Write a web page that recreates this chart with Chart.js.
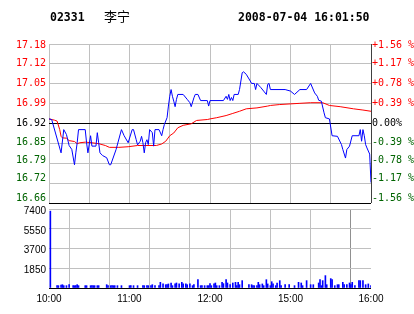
<!DOCTYPE html>
<html><head><meta charset="utf-8">
<script src="https://cdn.jsdelivr.net/npm/chart.js@4/dist/chart.umd.min.js"></script>
<style>
html,body{margin:0;padding:0;background:#fff;}
#wrap{position:relative;width:414px;height:314px;overflow:hidden;background:#fff;}
canvas{position:absolute;left:0;top:0;}
.t{position:absolute;top:10px;font:bold 11.5px "DejaVu Sans Mono",monospace;color:#000;line-height:14px;white-space:nowrap;}
</style></head><body>
<div id="wrap">
<canvas id="pc" width="414" height="314"></canvas>
<canvas id="vc" width="414" height="314"></canvas>
<div class="t" style="left:50px">02331</div>
<div class="t" style="left:104px;top:8px;font-weight:normal;font-size:13px;font-family:'Noto Sans CJK SC',sans-serif;line-height:16px">李宁</div>
<div class="t" style="left:238px">2008-07-04 16:01:50</div>
</div>
<script>
// ---- data ----
const priceMinutes = [0,2,9,11,13,15,17,19,20,21,22,27,28,29,31,32,35,36,37,38,40,43,45,46,50,54,56,59,62,63,65,66,68,69,70,71,72,73,74,75,77,78,79,82,84,85,86,88,89,90,91,92,93,94,95,96,100,103,105,106,108,109,111,113,118,119,120,130,132,133,134,135,136,137,138,141,142,144,145,147,150,151,153,154,155,158,160,162,163,164,165,176,180,183,187,192,195,198,200,201,203,205,206,209,211,215,218,219,221,222,224,226,231,232,233,234,235,236,237,239,240];
const prices = [16.935,16.933,16.824,16.90,16.884,16.848,16.835,16.785,16.824,16.857,16.90,16.90,16.857,16.824,16.88,16.846,16.846,16.89,16.857,16.824,16.815,16.808,16.785,16.785,16.835,16.90,16.88,16.857,16.90,16.90,16.867,16.85,16.862,16.878,16.857,16.824,16.857,16.867,16.851,16.90,16.89,16.846,16.90,16.90,16.88,16.90,16.917,16.939,16.977,17.009,17.031,17.009,16.993,16.975,16.999,17.015,17.015,16.999,16.988,16.975,17.004,17.015,17.015,16.995,16.995,16.977,16.995,16.995,17.009,16.999,17.015,16.995,17.005,16.995,17.015,17.015,17.031,17.086,17.089,17.081,17.059,17.051,17.051,17.031,17.051,17.037,17.026,17.015,17.048,17.051,17.031,17.031,17.026,17.015,17.031,17.031,17.051,17.02,17.009,16.996,16.993,16.955,16.939,16.935,16.88,16.878,16.851,16.835,16.807,16.835,16.846,16.88,16.88,16.90,16.862,16.90,16.88,16.851,16.84,16.82,16.727];
const avgMinutes = [0,4,6,8,9,10,13,15,19,21,23,27,32,37,42,45,52,59,66,80,84,87,90,93,96,100,106,110,118,120,125,132,137,142,147,155,163,165,172,187,195,204,209,217,227,234,240];
const avgPrices = [16.935,16.931,16.928,16.90,16.878,16.873,16.872,16.864,16.861,16.854,16.857,16.859,16.857,16.854,16.848,16.842,16.842,16.844,16.848,16.848,16.853,16.862,16.88,16.889,16.906,16.914,16.919,16.93,16.933,16.935,16.939,16.946,16.953,16.96,16.968,16.971,16.977,16.979,16.982,16.986,16.988,16.988,16.979,16.975,16.968,16.964,16.96];
const volMinutes = [1,6,7,9,10,11,13,15,18,19,20,21,22,27,28,31,32,33,34,36,37,43,44,46,47,48,49,51,54,60,61,63,66,70,71,73,74,76,77,79,82,83,85,87,88,89,91,92,94,95,97,99,100,102,103,105,107,108,111,113,114,116,118,119,120,121,123,124,125,127,129,130,132,133,135,137,139,140,141,142,144,149,151,152,153,155,156,157,159,160,162,163,165,166,167,169,170,172,173,176,179,183,186,188,189,192,195,197,201,202,203,204,206,207,210,211,213,215,216,219,220,222,224,225,226,228,231,232,234,236,238,240];
const volumes = [7200,220,220,280,310,220,220,310,220,220,220,310,220,220,220,220,220,220,220,220,220,310,220,220,220,220,220,220,220,220,220,220,220,220,220,220,220,220,310,220,220,530,380,310,310,380,470,220,380,470,380,530,380,380,310,380,220,310,780,220,220,220,220,220,410,220,380,470,220,220,530,410,780,470,310,470,530,220,530,310,690,310,310,220,220,220,530,310,380,220,780,380,220,590,380,220,470,690,220,310,310,220,530,470,220,690,310,310,470,780,220,690,1160,310,880,780,220,310,310,530,310,310,470,310,530,220,690,690,690,310,380,220];
const priceTicks = [16.66,16.725,16.79,16.855,16.92,16.985,17.05,17.115,17.18];
const priceTickLabels = ['16.66','16.72','16.79','16.85','16.92','16.99','17.05','17.12','17.18'];
const pctTickLabels = ['-1.56 %','-1.17 %','-0.78 %','-0.39 %','0.00%','+0.39 %','+0.78 %','+1.17 %','+1.56 %'];
const gridMinutes = [0,30,60,90,120,150,180,210,240];
const timeLabels = ['10:00','','11:00','','12:00','','15:00','','16:00'];
const volTicks = [0,1850,3700,5550,7400];
const volTickLabels = ['','1850','3700','5550','7400'];

// ---- styles ----
const GRAY = '#c0c0c0', RED = '#ff0000', GREEN = '#006400';
const sansFont = {family:'"Liberation Sans", Arial, sans-serif', size:10};
const labelShift = [-5,-5,-3,-1,0,0,0,0,1]; // vertical nudges of side labels (bottom to top)
const pts = (xs, ys) => xs.map((m,i)=>({x:m, y:ys[i]}));
const labelColor = i => i < 4 ? GREEN : (i === 4 ? '#000' : RED);

const sideLabels = {
  id:'sideLabels',
  afterDraw(chart){
    const c = chart.ctx, y = chart.scales.y, a = chart.chartArea;
    c.save();
    c.font = '10px "DejaVu Sans Mono", monospace';
    c.textBaseline = 'middle';
    priceTicks.forEach((v,i)=>{
      const py = y.getPixelForValue(v) + labelShift[i];
      c.fillStyle = labelColor(i);
      c.textAlign = 'right';
      c.fillText(priceTickLabels[i], a.left - 3, py);
      c.textAlign = 'left';
      c.fillText(pctTickLabels[i], a.right + 1, py);
    });
    c.restore();
  }
};

new Chart(document.getElementById('pc'), {
  type: 'line',
  data: { datasets: [
    {data: pts(priceMinutes, prices), borderColor:'#0000ff', borderWidth:1, pointRadius:0, tension:0},
    {data: pts(avgMinutes, avgPrices), borderColor:RED, borderWidth:1, pointRadius:0, tension:0}
  ]},
  plugins:[sideLabels],
  options: {
    responsive:false, animation:false, devicePixelRatio:1,
    layout:{padding:{top:44,bottom:111,left:0,right:43}},
    plugins:{legend:{display:false}, tooltip:{enabled:false}},
    scales:{
      x:{type:'linear', min:0, max:240,
         afterBuildTicks: s=>{s.ticks = gridMinutes.map(v=>({value:v}));},
         afterFit: s=>{s.height = 0;},
         ticks:{display:false},
         grid:{drawTicks:false, color: c => c.index === 8 ? '#404040' : GRAY},
         border:{display:false}},
      y:{type:'linear', position:'left', min:16.66, max:17.18,
         afterBuildTicks: s=>{s.ticks = priceTicks.map(v=>({value:v}));},
         afterFit: s=>{s.width = 49;},
         ticks:{display:false},
         grid:{drawTicks:false, color: c => (c.index===0 || c.index===4) ? '#000' : GRAY},
         border:{display:false}}
    }
  }
});

new Chart(document.getElementById('vc'), {
  type: 'bar',
  data: { datasets: [
    {data: pts(volMinutes, volumes), backgroundColor:'#0000ff', borderWidth:0, barThickness:1}
  ]},
  options: {
    responsive:false, animation:false, devicePixelRatio:1,
    layout:{padding:{top:209,bottom:0,left:0,right:43}},
    plugins:{legend:{display:false}, tooltip:{enabled:false}},
    scales:{
      x:{type:'linear', min:0, max:240, offset:false,
         afterBuildTicks: s=>{s.ticks = gridMinutes.map(v=>({value:v}));},
         afterFit: s=>{s.height = 26;},
         ticks:{autoSkip:false, maxRotation:0, padding:5, color:'#000', font: sansFont, callback:(v,i)=>timeLabels[i]},
         grid:{drawTicks:false, color: c => c.index === 8 ? '#909090' : GRAY},
         border:{display:false}},
      y:{type:'linear', min:0, max:7400,
         afterBuildTicks: s=>{s.ticks = volTicks.map(v=>({value:v}));},
         afterFit: s=>{s.width = 49;},
         ticks:{padding:3, labelOffset:2, color:'#000', font: sansFont, callback:(v,i)=>volTickLabels[i]},
         grid:{drawTicks:false, color: c => c.index===0 ? '#000' : GRAY},
         border:{display:false}}
    }
  }
});
</script>
</body></html>
